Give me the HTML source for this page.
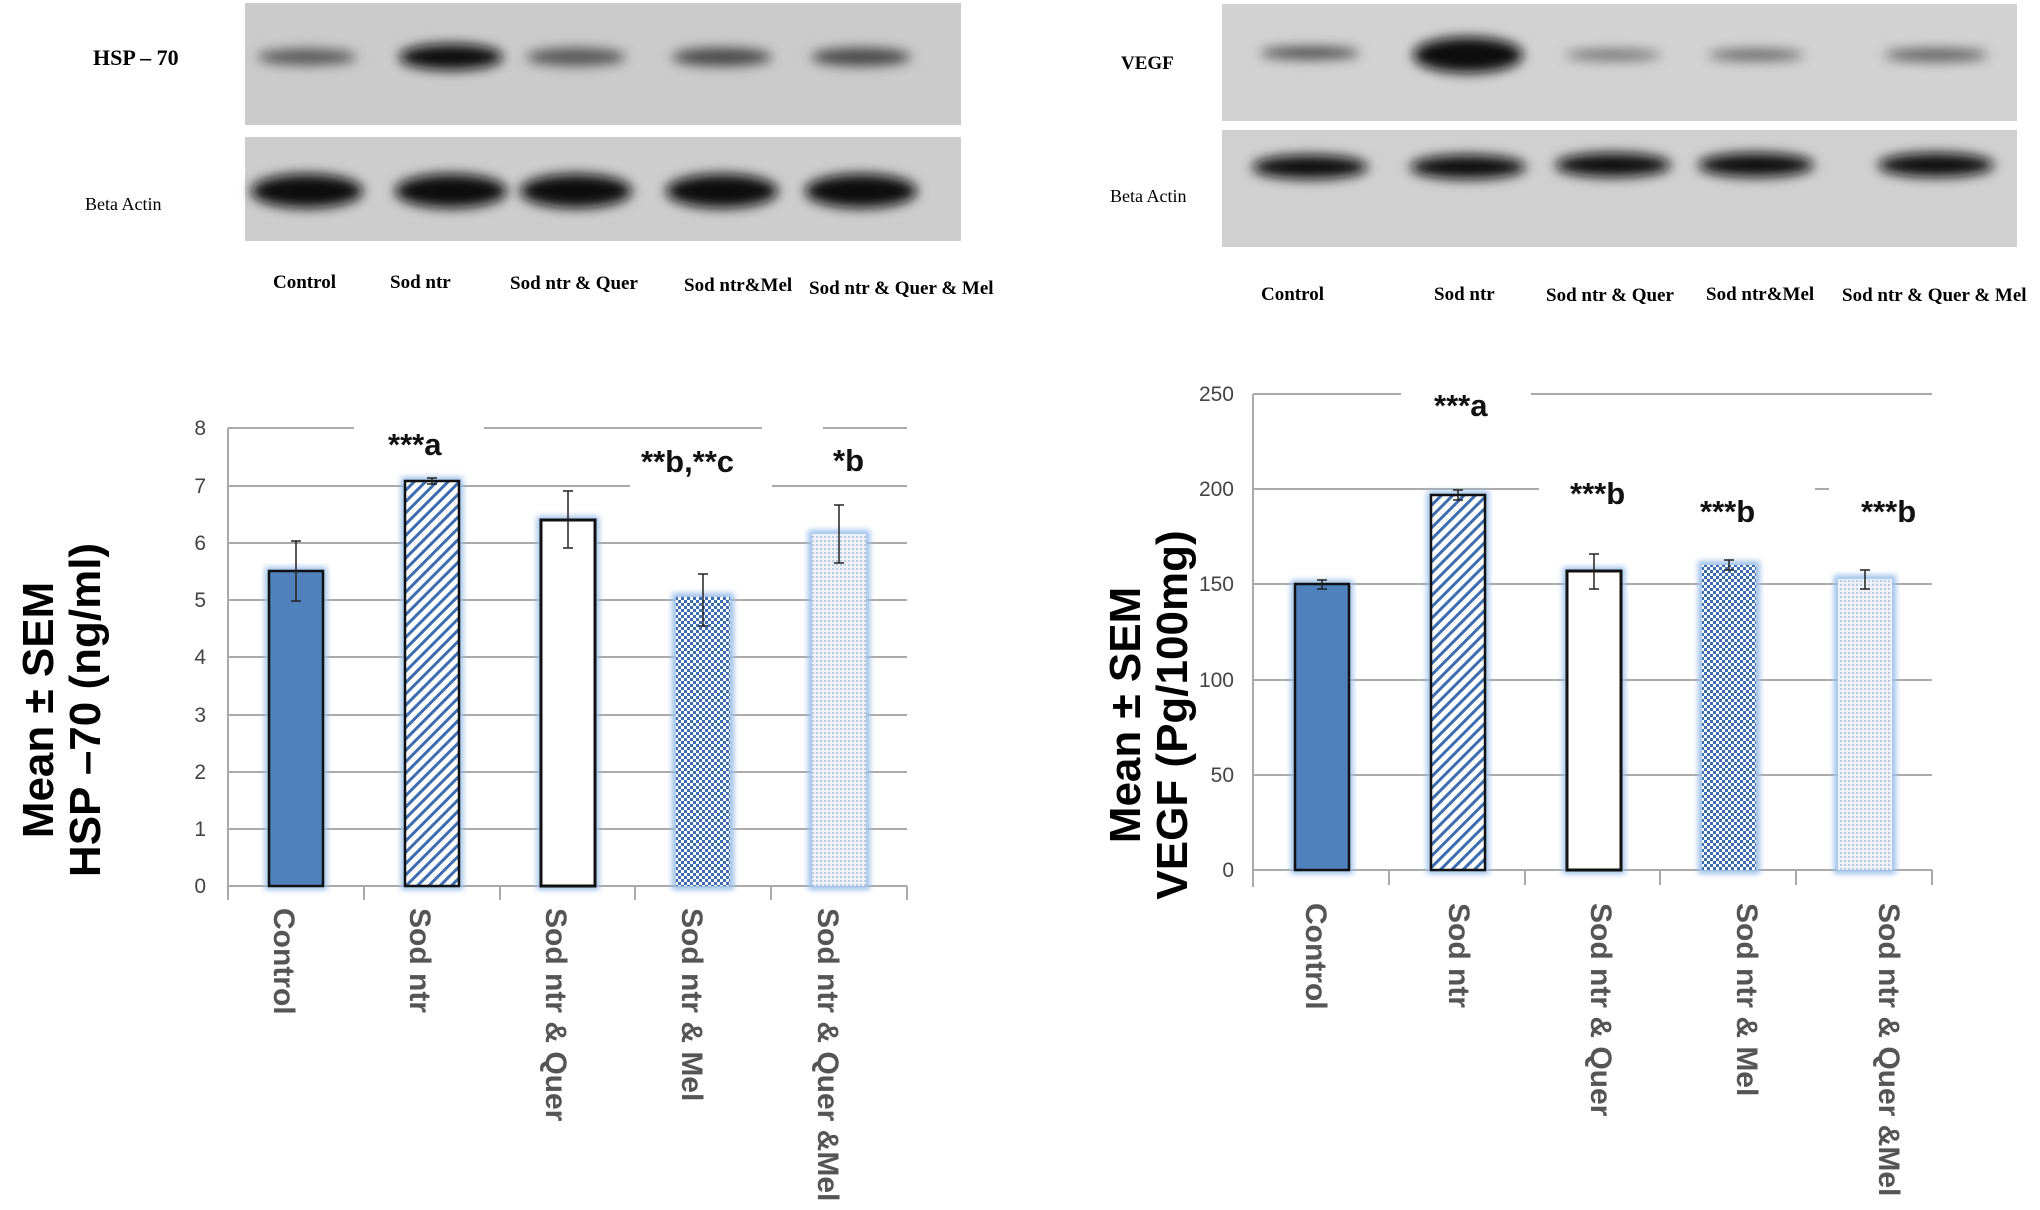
<!DOCTYPE html>
<html><head><meta charset="utf-8"><style>
html,body{margin:0;padding:0;background:#fff;}
svg{display:block;}
.bl{font-family:"Liberation Serif",serif;font-weight:bold;font-size:19px;fill:#000;}
.tk{font-family:"Liberation Sans",sans-serif;font-size:21px;fill:#444;}
.xl{font-family:"Liberation Sans",sans-serif;font-weight:bold;font-size:30px;fill:#555;}
.an{font-family:"Liberation Sans",sans-serif;font-weight:bold;font-size:31px;fill:#111;}
.yt{font-family:"Liberation Sans",sans-serif;font-weight:bold;font-size:44px;fill:#000;}
</style></head><body>
<svg width="2040" height="1210" viewBox="0 0 2040 1210" xmlns="http://www.w3.org/2000/svg">
<defs>
<filter id="bl" x="-30%" y="-100%" width="160%" height="300%"><feGaussianBlur stdDeviation="6"/></filter>
<filter id="gl" x="-20%" y="-10%" width="140%" height="120%"><feGaussianBlur stdDeviation="3"/></filter>
<pattern id="hatch" width="8" height="8" patternUnits="userSpaceOnUse" patternTransform="rotate(45)">
<rect width="8" height="8" fill="#fff"/><rect width="3" height="8" fill="#3d6db0"/></pattern>
<pattern id="chk" width="6" height="6" patternUnits="userSpaceOnUse">
<rect width="6" height="6" fill="#fff"/><rect width="3" height="3" fill="#3d6db0"/><rect x="3" y="3" width="3" height="3" fill="#3d6db0"/></pattern>
<pattern id="dot" width="4" height="4" patternUnits="userSpaceOnUse">
<rect width="4" height="4" fill="#eef2f8"/><rect width="2" height="2" fill="#b9c8de"/></pattern>
</defs>
<!-- Left blots -->
<rect x="245" y="3" width="716" height="122" fill="#cbcbcb"/>
<rect x="245" y="137" width="716" height="104" fill="#cdcdcd"/>
<g filter="url(#bl)">
<ellipse cx="307" cy="57" rx="50" ry="8" fill="#555"/>
<ellipse cx="451" cy="57" rx="52" ry="13" fill="#111"/>
<ellipse cx="576" cy="57" rx="50" ry="9" fill="#555"/>
<ellipse cx="722" cy="57" rx="50" ry="9" fill="#444"/>
<ellipse cx="861" cy="57" rx="50" ry="9" fill="#444"/>
<ellipse cx="307" cy="191" rx="56" ry="17" fill="#080808"/>
<ellipse cx="451" cy="191" rx="56" ry="17" fill="#080808"/>
<ellipse cx="576" cy="191" rx="56" ry="17" fill="#080808"/>
<ellipse cx="722" cy="191" rx="56" ry="17" fill="#080808"/>
<ellipse cx="861" cy="191" rx="56" ry="17" fill="#080808"/>
</g>
<text class="bl" x="93" y="65" style="font-size:22px">HSP – 70</text>
<text class="bl" x="85" y="210" style="font-weight:normal;font-size:18px">Beta Actin</text>
<text class="bl" x="273" y="288">Control</text>
<text class="bl" x="390" y="288">Sod ntr</text>
<text class="bl" x="510" y="289">Sod ntr &amp; Quer</text>
<text class="bl" x="684" y="291">Sod ntr&amp;Mel</text>
<text class="bl" x="809" y="294">Sod ntr &amp; Quer &amp; Mel</text>
<!-- Right blots -->
<rect x="1222" y="4" width="795" height="117" fill="#d2d2d2"/>
<rect x="1222" y="130" width="795" height="117" fill="#d0d0d0"/>
<g filter="url(#bl)">
<ellipse cx="1310" cy="53" rx="50" ry="6" fill="#444"/>
<ellipse cx="1468" cy="55" rx="55" ry="18" fill="#0a0a0a"/>
<ellipse cx="1613" cy="55" rx="48" ry="5" fill="#666"/>
<ellipse cx="1756" cy="55" rx="48" ry="5" fill="#555"/>
<ellipse cx="1936" cy="55" rx="52" ry="6" fill="#555"/>
<ellipse cx="1310" cy="167" rx="58" ry="12" fill="#111"/>
<ellipse cx="1468" cy="167" rx="58" ry="12" fill="#111"/>
<ellipse cx="1613" cy="165" rx="58" ry="12" fill="#111"/>
<ellipse cx="1756" cy="165" rx="58" ry="12" fill="#111"/>
<ellipse cx="1936" cy="165" rx="58" ry="12" fill="#111"/>
</g>
<text class="bl" x="1121" y="69">VEGF</text>
<text class="bl" x="1110" y="202" style="font-weight:normal;font-size:18px">Beta Actin</text>
<text class="bl" x="1261" y="300">Control</text>
<text class="bl" x="1434" y="300">Sod ntr</text>
<text class="bl" x="1546" y="301">Sod ntr &amp; Quer</text>
<text class="bl" x="1706" y="300">Sod ntr&amp;Mel</text>
<text class="bl" x="1842" y="301">Sod ntr &amp; Quer &amp; Mel</text>

<g stroke="#aaa" stroke-width="2">
<line x1="228" y1="428" x2="354" y2="428"/><line x1="484" y1="428" x2="762" y2="428"/><line x1="823" y1="428" x2="907" y2="428"/>
<line x1="228" y1="486" x2="630" y2="486"/><line x1="772" y1="486" x2="907" y2="486"/>
<line x1="228" y1="543" x2="907" y2="543"/><line x1="228" y1="600" x2="907" y2="600"/>
<line x1="228" y1="657" x2="907" y2="657"/><line x1="228" y1="715" x2="907" y2="715"/>
<line x1="228" y1="772" x2="907" y2="772"/><line x1="228" y1="829" x2="907" y2="829"/>
<line x1="228" y1="886" x2="907" y2="886"/>
<line x1="228" y1="428" x2="228" y2="900"/>
<line x1="364" y1="886" x2="364" y2="900"/><line x1="500" y1="886" x2="500" y2="900"/><line x1="635" y1="886" x2="635" y2="900"/><line x1="771" y1="886" x2="771" y2="900"/><line x1="907" y1="886" x2="907" y2="900"/>
</g>
<g class="tk" text-anchor="end">
<text x="206" y="435">8</text><text x="206" y="493">7</text><text x="206" y="550">6</text><text x="206" y="607">5</text><text x="206" y="664">4</text><text x="206" y="722">3</text><text x="206" y="779">2</text><text x="206" y="836">1</text><text x="206" y="893">0</text>
</g>
<g fill="none" stroke="#9cc0ea" stroke-width="8" filter="url(#gl)">
<rect x="269" y="571" width="54" height="315"/><rect x="405" y="481" width="54" height="405"/><rect x="541" y="520" width="54" height="366"/><rect x="676" y="597" width="54" height="289"/><rect x="812" y="534" width="54" height="352"/>
</g>
<rect x="269" y="571" width="54" height="315" fill="#4f81bd" stroke="#111" stroke-width="2.5"/>
<rect x="405" y="481" width="54" height="405" fill="url(#hatch)" stroke="#111" stroke-width="2.5"/>
<rect x="541" y="520" width="54" height="366" fill="#fff" stroke="#111" stroke-width="3"/>
<rect x="676" y="597" width="54" height="289" fill="url(#chk)"/>
<rect x="812" y="534" width="54" height="352" fill="url(#dot)"/>
<g stroke="#222" stroke-width="1.5">
<line x1="296" y1="541" x2="296" y2="601"/><line x1="291" y1="541" x2="301" y2="541"/><line x1="291" y1="601" x2="301" y2="601"/>
<line x1="432" y1="478" x2="432" y2="484"/><line x1="427" y1="478" x2="437" y2="478"/><line x1="427" y1="484" x2="437" y2="484"/>
<line x1="568" y1="491" x2="568" y2="548"/><line x1="563" y1="491" x2="573" y2="491"/><line x1="563" y1="548" x2="573" y2="548"/>
<line x1="703" y1="574" x2="703" y2="626"/><line x1="698" y1="574" x2="708" y2="574"/><line x1="698" y1="626" x2="708" y2="626"/>
<line x1="839" y1="505" x2="839" y2="563"/><line x1="834" y1="505" x2="844" y2="505"/><line x1="834" y1="563" x2="844" y2="563"/>
</g>
<text class="an" x="388" y="455">***a</text>
<text class="an" x="641" y="472">**b,**c</text>
<text class="an" x="833" y="471">*b</text>
<g class="xl">
<text transform="translate(274,908) rotate(90)">Control</text>
<text transform="translate(410,908) rotate(90)">Sod ntr</text>
<text transform="translate(546,908) rotate(90)">Sod ntr &amp; Quer</text>
<text transform="translate(682,908) rotate(90)">Sod ntr &amp; Mel</text>
<text transform="translate(818,908) rotate(90)">Sod ntr &amp; Quer &amp;Mel</text>
</g>
<g class="yt" text-anchor="middle">
<text transform="translate(53,710) rotate(-90)">Mean ± SEM</text>
<text transform="translate(100,710) rotate(-90)">HSP –70 (ng/ml)</text>
</g>

<g stroke="#aaa" stroke-width="2">
<line x1="1253" y1="394" x2="1401" y2="394"/><line x1="1531" y1="394" x2="1932" y2="394"/>
<line x1="1253" y1="489" x2="1539" y2="489"/><line x1="1815" y1="489" x2="1829" y2="489"/>
<line x1="1253" y1="584" x2="1932" y2="584"/><line x1="1253" y1="680" x2="1932" y2="680"/>
<line x1="1253" y1="775" x2="1932" y2="775"/><line x1="1253" y1="870" x2="1932" y2="870"/>
<line x1="1253" y1="394" x2="1253" y2="887"/>
<line x1="1389" y1="870" x2="1389" y2="885"/><line x1="1525" y1="870" x2="1525" y2="885"/><line x1="1660" y1="870" x2="1660" y2="885"/><line x1="1796" y1="870" x2="1796" y2="885"/><line x1="1932" y1="870" x2="1932" y2="885"/>
</g>
<g class="tk" text-anchor="end">
<text x="1234" y="401">250</text><text x="1234" y="496">200</text><text x="1234" y="591">150</text><text x="1234" y="687">100</text><text x="1234" y="782">50</text><text x="1234" y="877">0</text>
</g>
<g fill="none" stroke="#9cc0ea" stroke-width="8" filter="url(#gl)">
<rect x="1295" y="584" width="54" height="286"/><rect x="1431" y="495" width="54" height="375"/><rect x="1567" y="571" width="54" height="299"/><rect x="1702" y="565" width="54" height="305"/><rect x="1838" y="579" width="54" height="291"/>
</g>
<rect x="1295" y="584" width="54" height="286" fill="#4f81bd" stroke="#111" stroke-width="2.5"/>
<rect x="1431" y="495" width="54" height="375" fill="url(#hatch)" stroke="#111" stroke-width="2.5"/>
<rect x="1567" y="571" width="54" height="299" fill="#fff" stroke="#111" stroke-width="3"/>
<rect x="1702" y="565" width="54" height="305" fill="url(#chk)"/>
<rect x="1838" y="579" width="54" height="291" fill="url(#dot)"/>
<g stroke="#222" stroke-width="1.5">
<line x1="1322" y1="580" x2="1322" y2="589"/><line x1="1317" y1="580" x2="1327" y2="580"/><line x1="1317" y1="589" x2="1327" y2="589"/>
<line x1="1458" y1="490" x2="1458" y2="500"/><line x1="1453" y1="490" x2="1463" y2="490"/><line x1="1453" y1="500" x2="1463" y2="500"/>
<line x1="1594" y1="554" x2="1594" y2="589"/><line x1="1589" y1="554" x2="1599" y2="554"/><line x1="1589" y1="589" x2="1599" y2="589"/>
<line x1="1729" y1="560" x2="1729" y2="570"/><line x1="1724" y1="560" x2="1734" y2="560"/><line x1="1724" y1="570" x2="1734" y2="570"/>
<line x1="1865" y1="570" x2="1865" y2="589"/><line x1="1860" y1="570" x2="1870" y2="570"/><line x1="1860" y1="589" x2="1870" y2="589"/>
</g>
<text class="an" x="1434" y="416">***a</text>
<text class="an" x="1570" y="504">***b</text>
<text class="an" x="1700" y="522">***b</text>
<text class="an" x="1861" y="522">***b</text>
<g class="xl">
<text transform="translate(1306,903) rotate(90)">Control</text>
<text transform="translate(1449,903) rotate(90)">Sod ntr</text>
<text transform="translate(1591,903) rotate(90)">Sod ntr &amp; Quer</text>
<text transform="translate(1737,903) rotate(90)">Sod ntr &amp; Mel</text>
<text transform="translate(1879,903) rotate(90)">Sod ntr &amp; Quer &amp;Mel</text>
</g>
<g class="yt" text-anchor="middle">
<text transform="translate(1140,715) rotate(-90)">Mean ± SEM</text>
<text transform="translate(1187,715) rotate(-90)">VEGF (Pg/100mg)</text>
</g>
</svg>
</body></html>
